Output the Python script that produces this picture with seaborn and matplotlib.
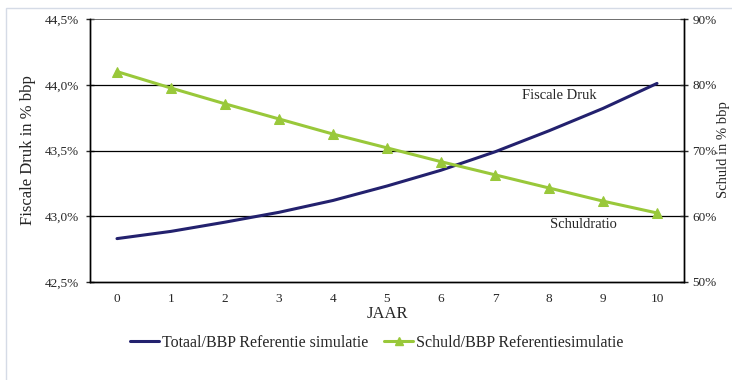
import matplotlib
matplotlib.use("Agg")
import matplotlib.pyplot as plt
import seaborn as sns
import pandas as pd
from matplotlib.ticker import FuncFormatter, FixedLocator
from matplotlib.patches import Rectangle
from matplotlib.lines import Line2D

sns.set_style("white")
plt.rcParams['font.family'] = ['Liberation Serif', 'DejaVu Serif']

jaar = [0, 1, 2, 3, 4, 5, 6, 7, 8, 9, 10]
fiscale_druk = [42.83, 42.885, 42.955, 43.03, 43.12, 43.23, 43.35, 43.49, 43.65, 43.82, 44.01]
schuldratio = [82.0, 79.5, 77.1, 74.8, 72.5, 70.4, 68.3, 66.3, 64.3, 62.3, 60.5]
left_ticks = [42.5, 43.0, 43.5, 44.0, 44.5]
right_ticks = [50, 60, 70, 80, 90]
label_blue = "Totaal/BBP Referentie simulatie"
label_green = "Schuld/BBP Referentiesimulatie"

df = pd.DataFrame({"jaar": jaar, "fd": fiscale_druk, "sr": schuldratio})

blue = "#23216e"
green = "#99c83a"

fig = plt.figure(figsize=(7.32, 3.80), dpi=100)
fig.patches.append(Rectangle((6/732, -0.1), 2, 1 - 8/380 + 0.1, transform=fig.transFigure,
                             fill=False, edgecolor="#d5dbe6", linewidth=1.0))
ax = fig.add_axes([90/732, 1 - 282/380, 594/732, 263/380])
ax2 = ax.twinx()

sns.lineplot(data=df, x="jaar", y="fd", ax=ax, color=blue, linewidth=2.2, zorder=3)
sns.lineplot(data=df, x="jaar", y="sr", ax=ax2, color=green, linewidth=2.2,
             marker="^", markersize=6.5, markeredgecolor=green, zorder=3)

ax.set_xlim(-0.5, 10.5)
ax.set_ylim(42.5, 44.5)
ax2.set_ylim(50, 90)
ax.set_yticks(left_ticks)
ax2.set_yticks(right_ticks)
ax.yaxis.set_major_formatter(FuncFormatter(lambda v, p: f"{v:.1f}%".replace(".", ",")))
ax2.yaxis.set_major_formatter(FuncFormatter(lambda v, p: f"{v:.0f}%"))

ax.set_xticks(jaar)
ax.set_xticklabels([str(j) for j in jaar])
ax.xaxis.set_minor_locator(FixedLocator([j - 0.5 for j in jaar] + [10.5]))
ax.tick_params(axis="x", which="major", length=0, labelsize=9.5, pad=8)
ax.tick_params(axis="x", which="minor", length=5, direction="inout", width=1)
ax.tick_params(axis="y", length=6, direction="inout", labelsize=9.5, width=1, pad=5)
ax2.tick_params(axis="y", length=6, direction="inout", labelsize=9.5, width=1, pad=3)

for y in left_ticks[1:-1]:
    ax.axhline(y, color="black", linewidth=0.9, zorder=1)
ax.axhline(44.5, color="#555555", linewidth=1.2, zorder=1)

for a in (ax, ax2):
    for s in a.spines.values():
        s.set_color("black")
        s.set_linewidth(1.0)
ax.spines["top"].set_visible(False)
ax2.spines["top"].set_visible(False)

ax.set_xlabel("JAAR", fontsize=12, labelpad=1)
ax.set_ylabel("Fiscale Druk in % bbp", fontsize=12, labelpad=6)
ax2.set_ylabel("")
fig.text(724/732, 1 - 150/380, "Schuld in % bbp", fontsize=10.5, rotation=90,
         ha="center", va="center")

ax.text(8.2, 43.92, "Fiscale Druk", fontsize=10.5, ha="center", va="center")
ax.text(8.63, 42.94, "Schuldratio", fontsize=10.5, ha="center", va="center")

handles = [Line2D([], [], color=blue, linewidth=2.2),
           Line2D([], [], color=green, linewidth=2.2, marker="^", markersize=6)]
fig.legend(handles, [label_blue, label_green], loc="center", bbox_to_anchor=(377/732, 1 - 343/380),
           ncol=2, frameon=False, fontsize=11.5, handlelength=1.8, handletextpad=0.2, columnspacing=1.0)

fig.savefig("out.png", dpi=100)
